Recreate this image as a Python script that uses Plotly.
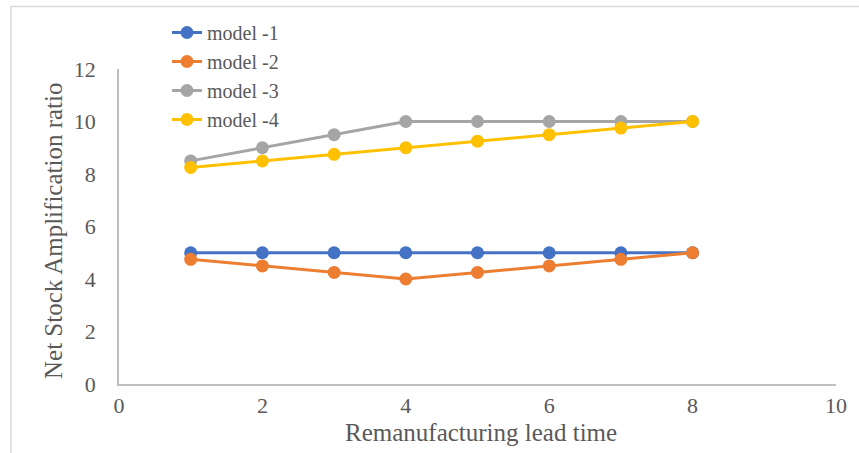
import plotly.graph_objects as go

# Remanufacturing lead time (x) and net stock amplification ratio per model
lead_time = [1, 2, 3, 4, 5, 6, 7, 8]
model_1 = [5, 5, 5, 5, 5, 5, 5, 5]
model_2 = [4.75, 4.5, 4.25, 4.0, 4.25, 4.5, 4.75, 5.0]
model_3 = [8.5, 9.0, 9.5, 10.0, 10.0, 10.0, 10.0, 10.0]
model_4 = [8.25, 8.5, 8.75, 9.0, 9.25, 9.5, 9.75, 10.0]

series_names = ["model -1", "model -2", "model -3", "model -4"]
series_values = [model_1, model_2, model_3, model_4]
series_colors = ["#4472C4", "#ED7D31", "#A5A5A5", "#FFC000"]

x_ticks = [0, 2, 4, 6, 8, 10]
y_ticks = [0, 2, 4, 6, 8, 10, 12]

W, H = 859, 453
L, R, T, B = 119, 23, 69, 69
pw, ph = W - L - R, H - T - B

def px_x(p):
    return (p - L) / pw

def px_y(p):
    return (H - B - p) / ph

FONT = "Liberation Serif"
GREY_TEXT = "#595959"

fig = go.Figure()
for name, vals, col in zip(series_names, series_values, series_colors):
    fig.add_trace(go.Scatter(
        x=lead_time, y=vals, name=name, mode="lines+markers",
        line=dict(color=col, width=3),
        marker=dict(color=col, size=13),
    ))

fig.update_layout(
    width=W, height=H,
    margin=dict(l=L, r=R, t=T, b=B),
    paper_bgcolor="white", plot_bgcolor="white",
    font=dict(family=FONT, color=GREY_TEXT),
    showlegend=True,
    legend=dict(
        x=px_x(167), y=px_y(13), xanchor="left", yanchor="top",
        bgcolor="rgba(0,0,0,0)", font=dict(size=20, color=GREY_TEXT, family=FONT),
        tracegroupgap=0,
    ),
    xaxis=dict(
        range=[0, 10], tickvals=x_ticks, ticktext=[str(v) for v in x_ticks],
        showgrid=False, zeroline=False,
        showline=True, linecolor="#BFBFBF", linewidth=1.5,
        ticks="outside", ticklen=1, tickcolor="rgba(0,0,0,0)",
        tickfont=dict(size=22, color=GREY_TEXT, family=FONT),
    ),
    yaxis=dict(
        range=[0, 12], tickvals=y_ticks, ticktext=[str(v) for v in y_ticks],
        showgrid=False, zeroline=False,
        showline=True, linecolor="#BFBFBF", linewidth=1.5,
        ticks="outside", ticklen=17, tickcolor="rgba(0,0,0,0)",
        tickfont=dict(size=22, color=GREY_TEXT, family=FONT),
    ),
    annotations=[
        dict(text="Remanufacturing lead time", xref="paper", yref="paper",
             x=px_x(481), y=px_y(433), xanchor="center", yanchor="middle",
             showarrow=False, font=dict(size=25, color=GREY_TEXT, family=FONT)),
        dict(text="Net Stock Amplification ratio", xref="paper", yref="paper",
             x=px_x(54), y=px_y(231), xanchor="center", yanchor="middle",
             textangle=-90, showarrow=False,
             font=dict(size=25, color=GREY_TEXT, family=FONT)),
    ],
    shapes=[
        dict(type="rect", xref="paper", yref="paper",
             x0=px_x(11), x1=px_x(900), y0=px_y(500), y1=px_y(6.5),
             line=dict(color="#D9D9D9", width=1.5), fillcolor="rgba(0,0,0,0)",
             layer="below"),
    ],
)

fig.write_html("out.html")
